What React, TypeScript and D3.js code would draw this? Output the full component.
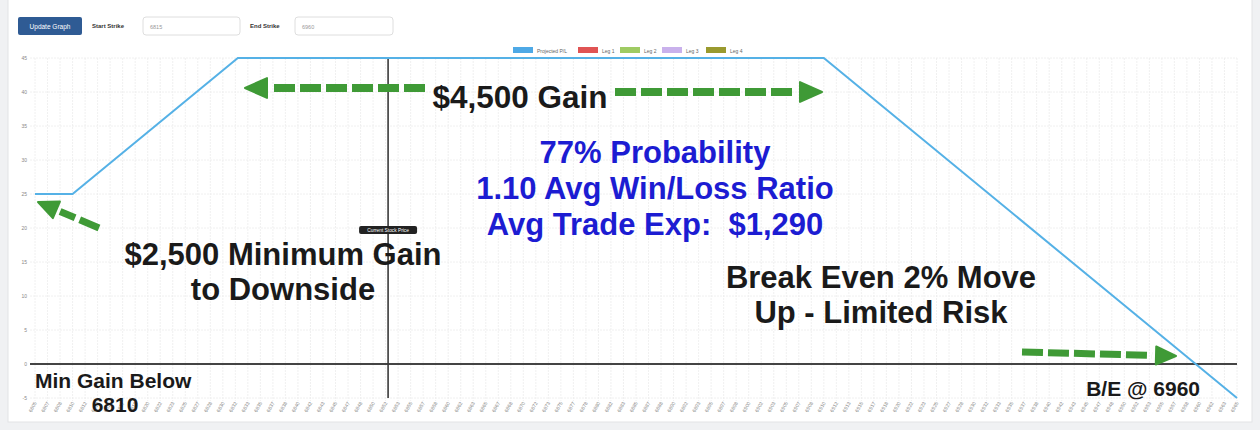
import * as d3 from "d3";

const WIDTH = 1260;
const HEIGHT = 430;

// x axis categories (strike prices)
const START_STRIKE = 6805;
const END_STRIKE = 6965;
const STRIKE_COUNT = 97;
const STRIKES = d3.range(STRIKE_COUNT).map((i) => START_STRIKE + (i * (END_STRIKE - START_STRIKE)) / (STRIKE_COUNT - 1));

// projected P/L breakpoints (hundreds of $)
const PNL_STRIKES = [6805, 6810, 6832, 6910, 6965];
const PNL_VALUES = [25, 25, 45, 45, -5];

const Y_TICKS = [-5, 0, 5, 10, 15, 20, 25, 30, 35, 40, 45];
const CURRENT_PRICE = 6852;

const LEGEND_LABELS = ["Projected P/L", "Leg 1", "Leg 2", "Leg 3", "Leg 4"];
const LEGEND_COLORS = ["#4ea9e6", "#e05454", "#9fcb63", "#c9b1ec", "#9a9a2e"];

const BLUE_LINES = ["77% Probability", "1.10 Avg Win/Loss Ratio", "Avg Trade Exp:  $1,290"];

const GREEN = "#3f9a36";
const FONT = "'Liberation Sans', Arial, sans-serif";

function Arrow({ x1, y1, x2, y2, w = 8, head = 22 }: { x1: number; y1: number; x2: number; y2: number; w?: number; head?: number }) {
  const dx = x2 - x1;
  const dy = y2 - y1;
  const len = Math.hypot(dx, dy);
  const ux = dx / len;
  const uy = dy / len;
  const bx = x2 - ux * head;
  const by = y2 - uy * head;
  const hw = head * 0.45;
  const tri = [
    [x2, y2],
    [bx - uy * hw, by + ux * hw],
    [bx + uy * hw, by - ux * hw],
  ];
  return (
    <g>
      <line x1={x1} y1={y1} x2={bx - ux * 4} y2={by - uy * 4} stroke={GREEN} strokeWidth={w} strokeDasharray="21 5" strokeLinecap="butt" />
      <path d={d3.line()(tri as [number, number][]) + "Z"} fill={GREEN} stroke={GREEN} strokeWidth={2} strokeLinejoin="round" />
    </g>
  );
}

export default function App() {
  const x = d3.scaleLinear().domain([START_STRIKE, END_STRIKE]).range([35, 1237]);
  const y = d3.scaleLinear().domain([-5, 45]).range([398, 58]);

  const pnlLine = d3
    .line<number>()
    .x((_, i) => x(PNL_STRIKES[i]))
    .y((d) => y(d))(PNL_VALUES);

  const top = y(45);
  const bottom = y(-5);

  // legend layout
  const legendX = [513, 578, 620, 662, 706];

  return (
    <div style={{ position: "absolute", left: 0, top: 0 }}>
      <svg width={WIDTH} height={HEIGHT} style={{ display: "block", fontFamily: FONT }}>
        <rect width={WIDTH} height={HEIGHT} fill="#f0f1f3" />
        <rect x={8} y={-2} width={1244} height={424} fill="#ffffff" stroke="#e2e3e5" />

        {/* controls */}
        <rect x={18} y={17} width={64} height={18} rx={2} fill="#2f5b94" />
        <text x={50} y={28.5} fontSize={6.5} fill="#ffffff" textAnchor="middle">Update Graph</text>
        <text x={92} y={28} fontSize={6} fontWeight="bold" fill="#333">Start Strike</text>
        <rect x={143} y={17} width={97} height={18} rx={3} fill="#fff" stroke="#dedede" />
        <text x={150} y={29} fontSize={5.5} fill="#999">6815</text>
        <text x={250} y={28} fontSize={6} fontWeight="bold" fill="#333">End Strike</text>
        <rect x={295} y={17} width={98} height={18} rx={3} fill="#fff" stroke="#dedede" />
        <text x={302} y={29} fontSize={5.5} fill="#999">6960</text>

        {/* legend */}
        {LEGEND_LABELS.map((l, i) => (
          <g key={l}>
            <rect x={legendX[i]} y={47} width={20} height={6} fill={LEGEND_COLORS[i]} />
            <text x={legendX[i] + 24} y={52.5} fontSize={5} fill="#666">{l}</text>
          </g>
        ))}

        {/* grid */}
        {STRIKES.map((s, i) => (
          <line key={"v" + i} x1={x(s)} x2={x(s)} y1={top} y2={bottom + 3} stroke="#ececec" strokeWidth={0.8} strokeDasharray="2 1" />
        ))}
        {Y_TICKS.map((t) => (
          <g key={"h" + t}>
            <line x1={30} x2={1237} y1={y(t)} y2={y(t)} stroke="#ececec" strokeWidth={0.8} strokeDasharray="2 1" />
            <text x={27} y={y(t) + 1.8} fontSize={5} fill="#888" textAnchor="end">{t}</text>
          </g>
        ))}

        {/* x tick labels */}
        {STRIKES.map((s, i) => (
          <text
            key={"xl" + i}
            transform={`translate(${x(s) + 2},${bottom + 5}) rotate(-60)`}
            fontSize={5}
            fill="#8a8a8a"
            textAnchor="end"
          >
            {Math.round(s)}
          </text>
        ))}

        {/* zero line */}
        <line x1={30} x2={1237} y1={y(0)} y2={y(0)} stroke="#444" strokeWidth={2} />

        {/* current stock price */}
        <line x1={x(CURRENT_PRICE)} x2={x(CURRENT_PRICE)} y1={top} y2={bottom} stroke="#3a3a3a" strokeWidth={1.6} />
        <rect x={x(CURRENT_PRICE) - 29} y={226} width={58} height={8} rx={2} fill="#222" />
        <text x={x(CURRENT_PRICE)} y={231.8} fontSize={4.8} fill="#fff" textAnchor="middle">Current Stock Price</text>

        {/* projected P/L */}
        <path d={pnlLine ?? ""} fill="none" stroke="#55b1e6" strokeWidth={2} />

        {/* annotations */}
        <Arrow x1={425} y1={88} x2={245} y2={88} />
        <Arrow x1={615} y1={92} x2={822} y2={92} />
        <text x={520} y={108} fontSize={31.5} fontWeight="bold" fill="#1a1a1a" textAnchor="middle">$4,500 Gain</text>

        {BLUE_LINES.map((t, i) => (
          <text key={t} x={655} y={163 + i * 36} fontSize={31} fontWeight="bold" fill="#1c1cd2" textAnchor="middle" style={{ whiteSpace: "pre" }}>{t}</text>
        ))}

        <Arrow x1={99} y1={228} x2={38} y2={202} w={7} head={20} />
        <text x={283} y={265} fontSize={31} fontWeight="bold" fill="#1a1a1a" textAnchor="middle">$2,500 Minimum Gain</text>
        <text x={283} y={300} fontSize={31} fontWeight="bold" fill="#1a1a1a" textAnchor="middle">to Downside</text>

        <text x={881} y={288} fontSize={31} fontWeight="bold" fill="#1a1a1a" textAnchor="middle">Break Even 2% Move</text>
        <text x={881} y={323} fontSize={31} fontWeight="bold" fill="#1a1a1a" textAnchor="middle">Up - Limited Risk</text>

        <Arrow x1={1022} y1={352} x2={1176} y2={356} w={7} head={20} />

        <text x={35} y={388} fontSize={21} fontWeight="bold" fill="#1a1a1a">Min Gain Below</text>
        <text x={115} y={412} fontSize={21} fontWeight="bold" fill="#1a1a1a" textAnchor="middle">6810</text>
        <text x={1200} y={396} fontSize={21} fontWeight="bold" fill="#1a1a1a" textAnchor="end">B/E @ 6960</text>
      </svg>
    </div>
  );
}
